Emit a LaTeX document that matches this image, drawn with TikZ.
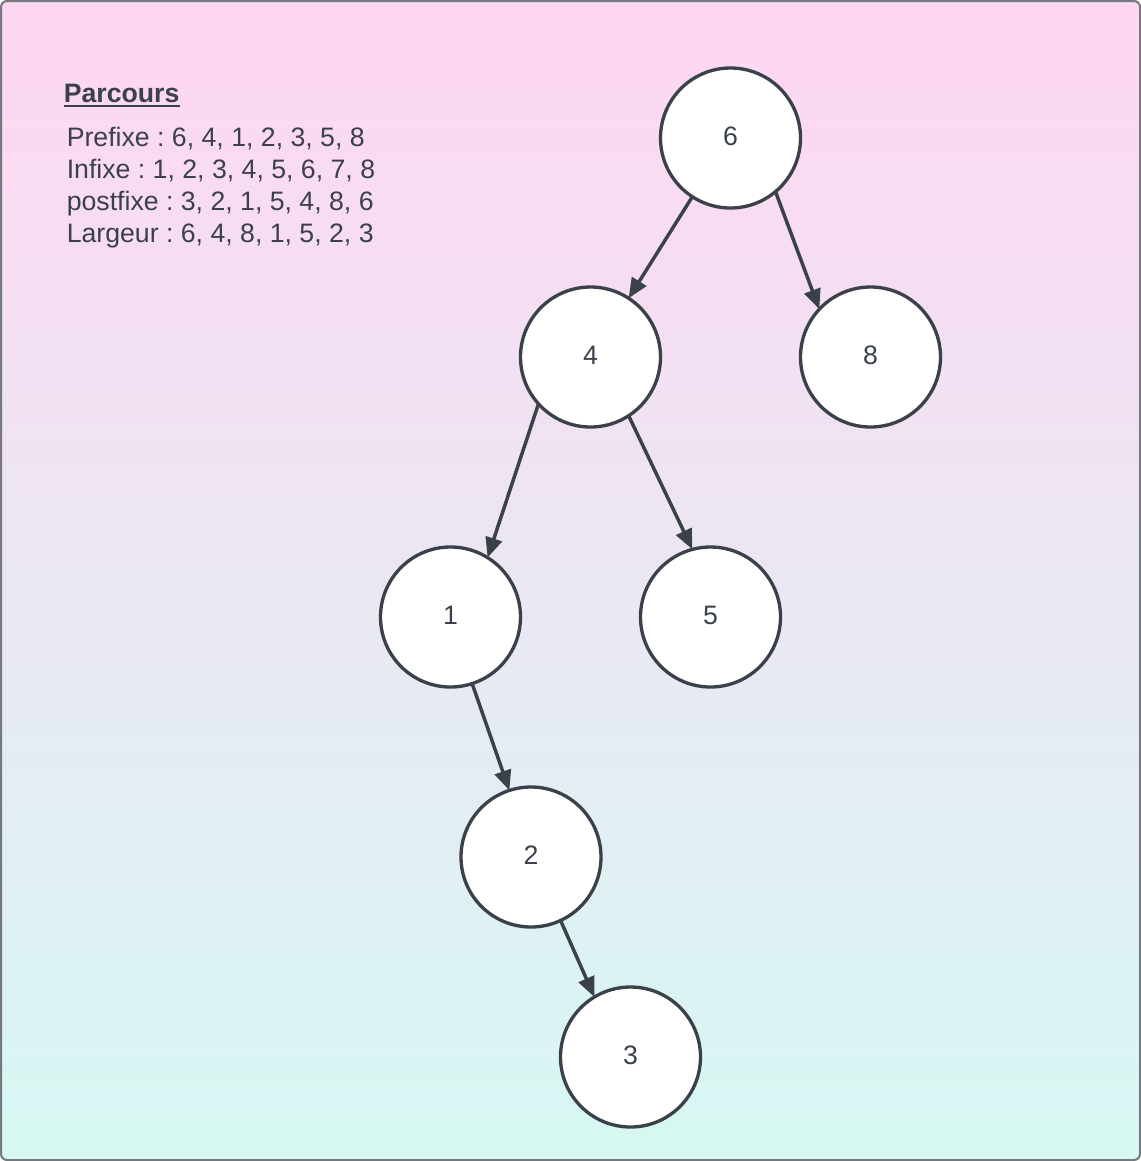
\documentclass[tikz,border=0pt]{standalone}
\usepackage{fontspec}
\setmainfont{Liberation Sans}
\usepackage{tikz}
\usetikzlibrary{arrows.meta}
\definecolor{inkgray}{HTML}{3A414A}
\definecolor{framegray}{HTML}{75787F}
\definecolor{toppink}{RGB}{255,214,242}
\definecolor{bottomcyan}{RGB}{214,248,243}
\frenchspacing

\begin{document}
\begin{tikzpicture}[x=0.75pt,y=-0.75pt,
	vertex/.style={circle,draw=inkgray,fill=white,line width=2.5pt,inner sep=0pt,outer sep=0pt,minimum size=105pt,text depth=3pt,text=inkgray,font=\fontsize{20}{24}\selectfont},
	edge/.style={-{Triangle[length=15pt,width=12.5pt]},draw=inkgray,line width=2.6pt},
	txt/.style={anchor=base west,inner sep=0pt,text=inkgray,font=\fontsize{20}{24}\selectfont}]
	\useasboundingbox (0,0) rectangle (1141,1161);
	
	%background
	\shade[top color=toppink,bottom color=bottomcyan,rounded corners=4.5pt] (1,1) rectangle (1140,1160);
	\draw[framegray,line width=1.5pt,rounded corners=4.5pt] (1,1) rectangle (1140,1160);
	
	%traversal list
	\node[txt,font=\fontsize{20}{24}\selectfont\bfseries] (T) at (63.5,102.7) {Parcours};
	\draw[inkgray,line width=1.7pt] ([yshift=-2.3pt]T.base west)--([yshift=-2.3pt]T.base east);	%underline
	\node[txt] (Pre) at (66.5,146) {Prefixe : 6, 4, 1, 2, 3, 5, 8};
	\node[txt] (In) at (66.5,178) {Infixe : 1, 2, 3, 4, 5, 6, 7, 8};
	\node[txt] (Post) at (66.5,210) {postfixe : 3, 2, 1, 5, 4, 8, 6};
	\node[txt] (Lar) at (66.5,242) {Largeur : 6, 4, 8, 1, 5, 2, 3};
	
	%tree nodes
	\node[vertex] (N6) at (730.5,138) {6};
	\node[vertex] (N4) at (590.5,357) {4};
	\node[vertex] (N8) at (870.5,357) {8};
	\node[vertex] (N1) at (450.5,617) {1};
	\node[vertex] (N5) at (710.5,617) {5};
	\node[vertex] (N2) at (531,857) {2};
	\node[vertex] (N3) at (630.5,1057) {3};
	
	%edges
	\draw[edge] (N6.237)--(N4.57.5);
	\draw[edge] (N6.310.8)--(N8.137.5);
	\draw[edge] (N4.222)--(N1.58.6);
	\draw[edge] (N4.303.4)--(N5.105.7);
	\draw[edge] (N1.288)--(N2.108.4);
	\draw[edge] (N2.295.6)--(N3.121.3);
	
\end{tikzpicture}
\end{document}
